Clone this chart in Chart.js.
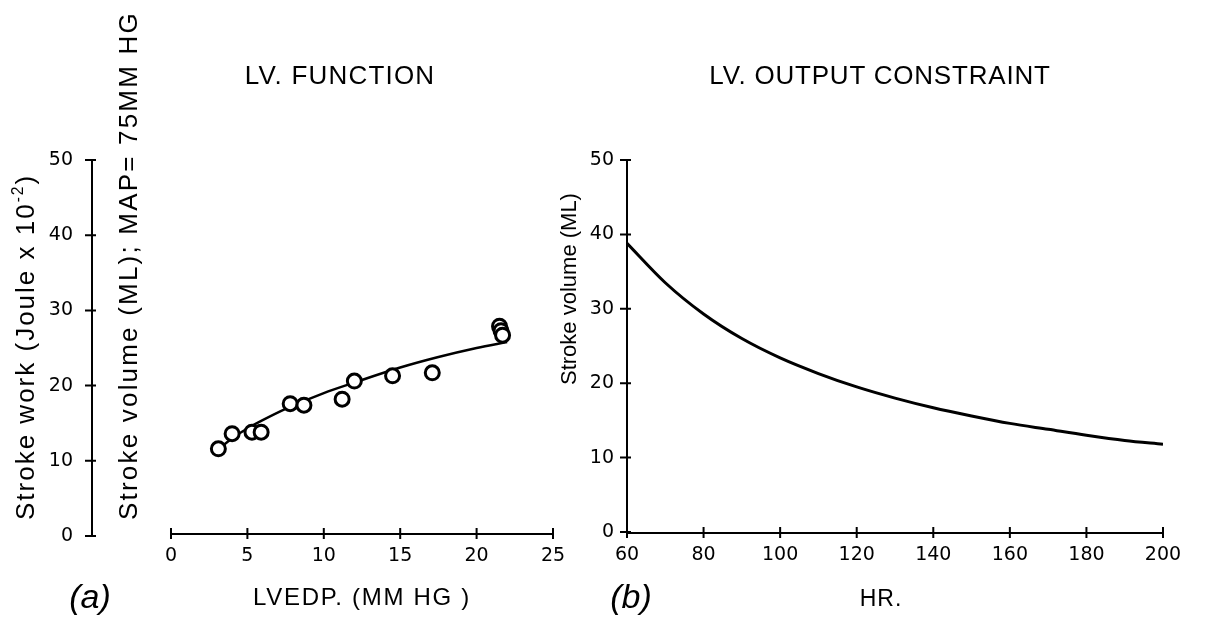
<!DOCTYPE html>
<html>
<head>
<meta charset="utf-8">
<title>LV function / LV output constraint</title>
<script src="https://cdn.jsdelivr.net/npm/chart.js@4.4.0/dist/chart.umd.min.js"></script>
<style>
  html, body { margin: 0; padding: 0; background: #fff; }
  #page { position: relative; width: 1205px; height: 617px; overflow: hidden;
          font-family: "Liberation Sans", Arial, sans-serif; color: #000; }
  .wrap { position: absolute; top: 0; height: 617px; }
  #left-wrap { left: 0; width: 680px; }
  #right-wrap { left: 555px; width: 650px; }
  .lbl { position: absolute; white-space: nowrap; line-height: 1; }
  .ctr { transform: translate(-50%, -50%); }
  .rot { transform-origin: 0 0; transform: rotate(-90deg) translateY(-50%); }
  .title { font-size: 26px; }
  .panel { font-size: 34px; font-style: italic; }
  sup { font-size: 0.6em; vertical-align: 0.7em; line-height: 0; }
</style>
</head>
<body>
<div id="page">
  <div class="wrap" id="left-wrap"><canvas id="lvFunction" width="680" height="617"></canvas></div>
  <div class="wrap" id="right-wrap"><canvas id="lvOutput" width="650" height="617"></canvas></div>

  <div class="lbl ctr title" style="left:340px; top:75px; letter-spacing:1.2px;">LV. FUNCTION</div>
  <div class="lbl ctr title" style="left:880px; top:75px; letter-spacing:0.8px;">LV. OUTPUT CONSTRAINT</div>

  <div class="lbl rot" style="left:25px; top:520px; font-size:26px; letter-spacing:2px;">Stroke work (Joule x 10<sup>-2</sup>)</div>
  <div class="lbl rot" style="left:128px; top:520px; font-size:26px; letter-spacing:2.2px;">Stroke volume (ML); MAP= 75MM HG</div>
  <div class="lbl rot" style="left:569px; top:385px; font-size:22px;">Stroke volume (ML)</div>

  <div class="lbl ctr" style="left:362px; top:597px; font-size:24px; letter-spacing:1.7px;">LVEDP. (MM HG )</div>
  <div class="lbl ctr" style="left:881px; top:598px; font-size:23px; letter-spacing:1px;">HR.</div>

  <div class="lbl ctr panel" style="left:90px; top:596px;">(a)</div>
  <div class="lbl ctr panel" style="left:631px; top:596px;">(b)</div>
</div>

<script>
// (a) LV function - measured points
const lvedpPoints = [3.1, 4.0, 5.3, 5.9, 7.8, 8.7, 11.2, 12.0, 14.5, 17.1, 21.5, 21.6, 21.7];
const strokeVolPoints = [11.6, 13.6, 13.8, 13.8, 17.6, 17.4, 18.2, 20.6, 21.3, 21.7, 27.9, 27.3, 26.7];
// fitted curve drawn through them
const lvedpFit = [3.1, 4, 5, 6, 7.5, 10, 12, 15, 17.5, 20, 22];
const strokeVolFit = [11.5, 13.0, 14.3, 15.4, 16.9, 19.0, 20.4, 22.4, 23.8, 25.0, 25.8];
const lvedpTicks = [0, 5, 10, 15, 20, 25];
const leftYTicks = [0, 10, 20, 30, 40, 50];

// (b) LV output constraint
const heartRate = [60, 70, 80, 90, 100, 110, 120, 130, 140, 150, 160, 170, 180, 190, 200];
const strokeVolLimit = [38.8, 33.5, 29.3, 26.0, 23.4, 21.3, 19.5, 18.0, 16.7, 15.6, 14.6, 13.8, 13.0, 12.3, 11.8];
const hrTicks = [60, 80, 100, 120, 140, 160, 180, 200];
const rightYTicks = [0, 10, 20, 30, 40, 50];

const tickFont = { family: '"DejaVu Sans", sans-serif', size: 19 };

// draws the axis lines with ticks crossing them, like the plotter did
const axisLines = {
    id: 'axisLines',
    afterDraw(chart, args, opts) {
        const ctx = chart.ctx;
        const x = chart.scales.x, y = chart.scales.y;
        const xa = chart.chartArea.left;
        const yb = y.getPixelForValue(0) - (opts.xAxisLift || 0);
        ctx.save();
        ctx.strokeStyle = '#000';
        ctx.lineWidth = 2;
        ctx.beginPath();
        // y axis
        ctx.moveTo(xa, y.getPixelForValue(opts.yTicks[0]));
        ctx.lineTo(xa, y.getPixelForValue(opts.yTicks[opts.yTicks.length - 1]));
        opts.yTicks.forEach(v => {
            const py = y.getPixelForValue(v);
            ctx.moveTo(xa - 7, py);
            ctx.lineTo(xa + 4, py);
        });
        // x axis
        const x0 = x.getPixelForValue(opts.xTicks[0]);
        const x1 = x.getPixelForValue(opts.xTicks[opts.xTicks.length - 1]);
        ctx.moveTo(x0, yb);
        ctx.lineTo(x1, yb);
        opts.xTicks.forEach(v => {
            const px = x.getPixelForValue(v);
            ctx.moveTo(px, yb - 6);
            ctx.lineTo(px, yb + 5);
        });
        ctx.stroke();
        ctx.restore();
    }
};

function tickAxis(values, opts) {
    return Object.assign({
        type: 'linear',
        grid: { display: false, drawTicks: false },
        border: { display: false },
        ticks: { color: '#000', font: tickFont },
        afterBuildTicks: scale => { scale.ticks = values.map(v => ({ value: v })); }
    }, opts);
}

new Chart(document.getElementById('lvFunction'), {
    type: 'scatter',
    data: {
        datasets: [{
            label: 'Measured',
            data: lvedpPoints.map((v, i) => ({ x: v, y: strokeVolPoints[i] })),
            pointRadius: 7,
            pointBackgroundColor: '#fff',
            pointBorderColor: '#000',
            pointBorderWidth: 3
        }, {
            type: 'line',
            label: 'Fit',
            data: lvedpFit.map((v, i) => ({ x: v, y: strokeVolFit[i] })),
            borderColor: '#000',
            borderWidth: 2.5,
            pointRadius: 0,
            cubicInterpolationMode: 'monotone',
            fill: false
        }]
    },
    options: {
        responsive: false,
        animation: false,
        events: [],
        layout: { padding: { left: 0, top: 160, right: 127, bottom: 41 } },
        plugins: {
            legend: { display: false },
            tooltip: { enabled: false },
            axisLines: { xTicks: lvedpTicks, yTicks: leftYTicks, xAxisLift: 2 }
        },
        scales: {
            x: tickAxis(lvedpTicks, {
                min: -5.17, max: 25,
                ticks: { color: '#000', font: tickFont, padding: 9 },
                afterFit: s => { s.height = 40; }
            }),
            y: tickAxis(leftYTicks, {
                min: 0, max: 50,
                ticks: { color: '#000', font: tickFont, padding: 19 },
                afterFit: s => { s.width = 92; }
            })
        }
    },
    plugins: [axisLines]
});

new Chart(document.getElementById('lvOutput'), {
    type: 'line',
    data: {
        datasets: [{
            label: 'Stroke volume',
            data: heartRate.map((v, i) => ({ x: v, y: strokeVolLimit[i] })),
            borderColor: '#000',
            borderWidth: 3,
            pointRadius: 0,
            cubicInterpolationMode: 'monotone',
            fill: false
        }]
    },
    options: {
        responsive: false,
        animation: false,
        events: [],
        layout: { padding: { left: 0, top: 160, right: 42, bottom: 45 } },
        plugins: {
            legend: { display: false },
            tooltip: { enabled: false },
            axisLines: { xTicks: hrTicks, yTicks: rightYTicks, xAxisLift: -1 }
        },
        scales: {
            x: tickAxis(hrTicks, {
                min: 60, max: 200,
                ticks: { color: '#000', font: tickFont, padding: 12 },
                afterFit: s => { s.height = 40; }
            }),
            y: tickAxis(rightYTicks, {
                min: 0, max: 50,
                ticks: { color: '#000', font: tickFont, padding: 13 },
                afterFit: s => { s.width = 72; }
            })
        }
    },
    plugins: [axisLines]
});
</script>
</body>
</html>
